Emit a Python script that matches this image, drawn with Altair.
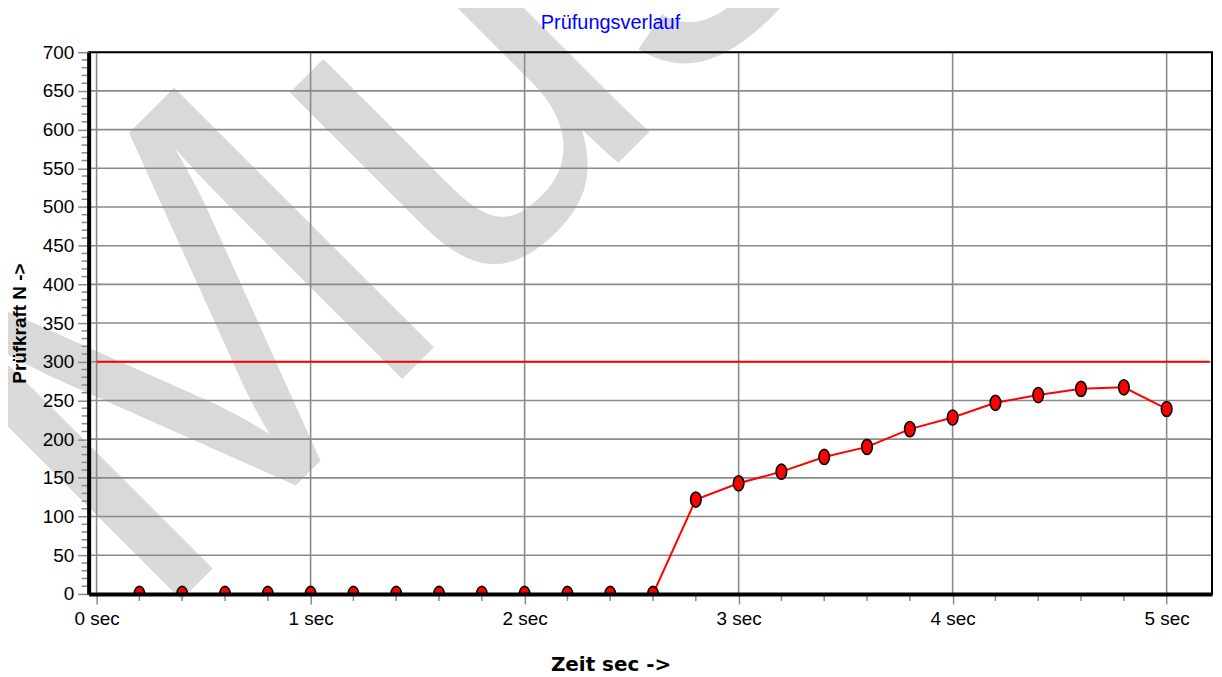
import altair as alt
import pandas as pd

# ---- data ----
times = [0.2, 0.4, 0.6, 0.8, 1.0, 1.2, 1.4, 1.6, 1.8, 2.0, 2.2, 2.4, 2.6,
         2.8, 3.0, 3.2, 3.4, 3.6, 3.8, 4.0, 4.2, 4.4, 4.6, 4.8, 5.0]
forces = [0, 0, 0, 0, 0, 0, 0, 0, 0, 0, 0, 0, 0,
          122, 143, 158, 177, 190, 213, 228, 247, 257, 265, 267, 239]
limit_force = [300]
limit_start = [0.0]
limit_end = [5.2]
x_major_ticks = [0, 1, 2, 3, 4, 5]
x_minor_ticks = [0.2, 0.4, 0.6, 0.8, 1.2, 1.4, 1.6, 1.8, 2.2, 2.4, 2.6, 2.8,
                 3.2, 3.4, 3.6, 3.8, 4.2, 4.4, 4.6, 4.8]
y_major_ticks = [0, 50, 100, 150, 200, 250, 300, 350, 400, 450, 500, 550,
                 600, 650, 700]
y_minor_ticks = [10, 20, 30, 40, 60, 70, 80, 90, 110, 120, 130, 140, 160, 170,
                 180, 190, 210, 220, 230, 240, 260, 270, 280, 290, 310, 320,
                 330, 340, 360, 370, 380, 390, 410, 420, 430, 440, 460, 470,
                 480, 490, 510, 520, 530, 540, 560, 570, 580, 590, 610, 620,
                 630, 640, 660, 670, 680, 690]
x_domain = [-0.037, 5.212]
y_domain = [0, 700]
chart_title = ["Prüfungsverlauf"]
x_title = "Zeit sec ->"
y_title = "Prüfkraft N ->"
watermark_text = ["Muster"]

df = pd.DataFrame({"t": times, "F": forces})
limit_df = pd.DataFrame({"t": limit_start, "t2": limit_end, "F": limit_force})
xminor_df = pd.DataFrame({"t": x_minor_ticks})
yminor_df = pd.DataFrame({"F": y_minor_ticks})
xgrid_df = pd.DataFrame({"t": x_major_ticks})
ygrid_df = pd.DataFrame({"F": y_major_ticks})
wm_df = pd.DataFrame({"c": watermark_text})
title_df = pd.DataFrame({"c": chart_title})
frame_df = pd.DataFrame({"k": [1]})

GRID = "#8a8a8a"
FONT = "Liberation Sans"
ELLIPSE = "M0,-1A0.7,1,0,1,1,0,1A0.7,1,0,1,1,0,-1Z"
W, H = 1128, 544
LEFT, TOP = 89, 51  # page position of the plot area

x_axis = alt.Axis(
    values=x_major_ticks, tickCount=40, grid=False, zindex=1,
    labelExpr="datum.value + ' sec'",
    tickColor=GRID, tickWidth=1.5, tickSize=10,
    domainColor="black", domainWidth=4,
    labelFont=FONT, labelFontSize=19, labelColor="black", labelPadding=6,
    labelFlush=False, labelOverlap=False,
    title=x_title, titleFont="DejaVu Sans", titleFontWeight="bold",
    titleFontSize=20, titleColor="black",
    titleX=613 - LEFT, titleY=672 - (TOP + H),
    titleAlign="center", titleBaseline="alphabetic",
)

y_axis = alt.Axis(
    values=y_major_ticks, tickCount=40, grid=False, zindex=1,
    tickColor=GRID, tickWidth=1.5, tickSize=11,
    domainColor="black", domainWidth=4,
    labelFont=FONT, labelFontSize=19, labelColor="black", labelPadding=4,
    labelFlush=False, labelOverlap=False,
    title=y_title, titleFont=FONT, titleFontWeight="bold",
    titleFontSize=19, titleColor="black", titleAngle=270,
    titleX=20 - LEFT, titleY=323 - TOP,
    titleAlign="center", titleBaseline="middle",
)

xs = alt.Scale(domain=x_domain, nice=False, zero=False)
ys = alt.Scale(domain=y_domain, nice=False)

# decorative watermark ("Muster"), drawn first so everything sits above it
watermark = alt.Chart(wm_df).mark_text(
    font=FONT, fontSize=536, color="#d9d9d9", angle=315,
    align="left", baseline="alphabetic",
).encode(text="c:N", x=alt.value(151 - LEFT), y=alt.value(632 - TOP))

title = alt.Chart(title_df).mark_text(
    font=FONT, fontSize=20, color="#0000ff", align="center",
    baseline="alphabetic",
).encode(text="c:N", x=alt.value(613 - LEFT), y=alt.value(28 - TOP))

x_grid = alt.Chart(xgrid_df).mark_rule(color=GRID, strokeWidth=1.6).encode(
    x=alt.X("t:Q", scale=xs, axis=x_axis), y=alt.value(0), y2=alt.value(H),
)
y_grid = alt.Chart(ygrid_df).mark_rule(color=GRID, strokeWidth=1.6).encode(
    y=alt.Y("F:Q", scale=ys, axis=y_axis), x=alt.value(0), x2=alt.value(W),
)

frame = alt.Chart(frame_df).mark_rect(
    filled=False, stroke="black", strokeWidth=2,
).encode(x=alt.value(0), x2=alt.value(W), y=alt.value(0), y2=alt.value(H))

limit_rule = alt.Chart(limit_df).mark_rule(color="#ff0000", strokeWidth=2).encode(
    x=alt.X("t:Q", scale=xs), x2="t2:Q", y=alt.Y("F:Q", scale=ys),
)

y_minor = alt.Chart(yminor_df).mark_rule(color=GRID, strokeWidth=1.5).encode(
    y=alt.Y("F:Q", scale=ys), x=alt.value(-7), x2=alt.value(0),
)
x_minor = alt.Chart(xminor_df).mark_rule(color=GRID, strokeWidth=1.5).encode(
    x=alt.X("t:Q", scale=xs), y=alt.value(H), y2=alt.value(H + 7),
)

line = alt.Chart(df).mark_line(color="#ff0000", strokeWidth=2).encode(
    x=alt.X("t:Q", scale=xs), y=alt.Y("F:Q", scale=ys),
)

points = alt.Chart(df).mark_point(
    shape=ELLIPSE, filled=True, fill="#ff0000", stroke="black",
    strokeWidth=1.6, size=230, opacity=1, clip=True,
).encode(x=alt.X("t:Q", scale=xs), y=alt.Y("F:Q", scale=ys))

chart = alt.layer(
    watermark, title, x_grid, y_grid, frame, limit_rule, y_minor, x_minor,
    line, points,
).properties(
    width=W,
    height=H,
    autosize=alt.AutoSizeParams(type="none"),
    padding={"left": 81, "top": 43, "right": 2, "bottom": 80},
).configure_view(
    strokeWidth=0
).configure(background="white")

chart.save("out.html", embed_options={"renderer": "svg", "actions": False})
